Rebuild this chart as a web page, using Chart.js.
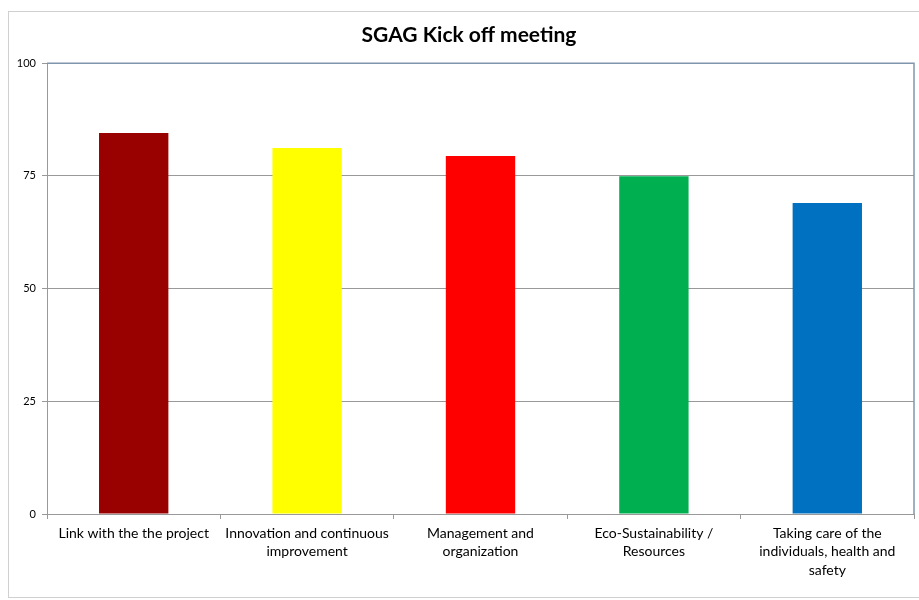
<!DOCTYPE html>
<html>
<head>
<meta charset="utf-8">
<script src="https://cdn.jsdelivr.net/npm/chart.js@4"></script>
<style>
  html, body { margin: 0; padding: 0; background: #fff; }
  #chart { display: block; }
</style>
</head>
<body>
<canvas id="chart" width="919" height="600"></canvas>
<script>
const title = "SGAG Kick off meeting";
const categories = [
  "Link with the the project",
  ["Innovation and continuous", "improvement"],
  ["Management and", "organization"],
  ["Eco-Sustainability /", "Resources"],
  ["Taking care of the", "individuals, health and", "safety"]
];
const scores = [84.5, 81.2, 79.4, 74.9, 69.0];
const barColors = ["#990000", "#FFFF00", "#FF0000", "#00B050", "#0070C0"];
const yTicks = [0, 25, 50, 75, 100];

// outer frame + top/right plot border like the spreadsheet chart
const framePlugin = {
  id: "frame",
  afterLayout(c) {
    // title sits a little right of the canvas centre in the original
    if (c.titleBlock) c.titleBlock.left = 24;
  },
  beforeDraw(c) {
    const ctx = c.ctx;
    ctx.save();
    ctx.strokeStyle = "#d0d0d0";
    ctx.lineWidth = 1;
    ctx.strokeRect(8.5, 11.5, 918, 586);
    ctx.restore();
  },
  afterDatasetsDraw(c) {
    const { left, top, right, bottom } = c.chartArea;
    const ctx = c.ctx;
    ctx.save();
    ctx.strokeStyle = "#8096ad";
    ctx.lineWidth = 1.5;
    ctx.beginPath();
    ctx.moveTo(left, top);
    ctx.lineTo(right, top);
    ctx.lineTo(right, bottom);
    ctx.stroke();
    ctx.restore();
  }
};

new Chart(document.getElementById("chart"), {
  type: "bar",
  data: {
    labels: categories,
    datasets: [{
      data: scores,
      backgroundColor: barColors,
      borderWidth: 0,
      barPercentage: 0.4,
      categoryPercentage: 1
    }]
  },
  options: {
    responsive: false,
    animation: false,
    layout: { padding: { left: 10, right: 5, top: 14, bottom: 2 } },
    plugins: {
      legend: { display: false },
      tooltip: { enabled: false },
      title: {
        display: true,
        text: title,
        color: "#000",
        font: { family: "Lato", size: 21, weight: "bold" },
        padding: { top: 9, bottom: 15 }
      }
    },
    scales: {
      x: {
        afterFit: s => { s.height = 84; },
        grid: {
          offset: true,
          drawOnChartArea: false,
          color: "#999",
          tickLength: 5
        },
        border: { color: "#999", width: 1 },
        ticks: {
          color: "#000",
          font: { family: "Lato", size: 14, lineHeight: 1.32 },
          maxRotation: 0,
          autoSkip: false,
          padding: 5
        }
      },
      y: {
        min: 0,
        max: 100,
        afterFit: s => { s.width = 37; },
        afterBuildTicks: s => { s.ticks = yTicks.map(v => ({ value: v })); },
        grid: { color: "#999", tickLength: 5 },
        border: { color: "#999", width: 1 },
        ticks: {
          color: "#000",
          font: { family: "Lato", size: 11 },
          padding: 6
        }
      }
    }
  },
  plugins: [framePlugin]
});
</script>
</body>
</html>
